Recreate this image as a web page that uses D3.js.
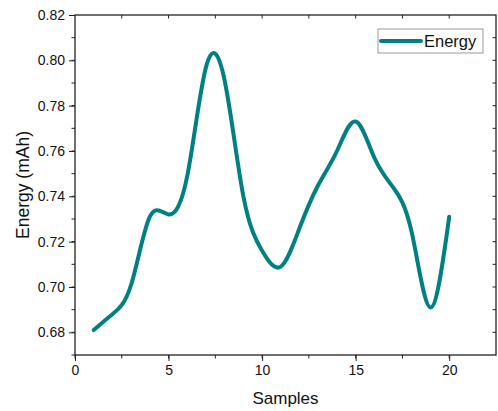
<!DOCTYPE html>
<html>
<head>
<meta charset="utf-8">
<script src="https://cdn.jsdelivr.net/npm/d3@7"></script>
<style>
  body { margin: 0; background: #fff; }
  svg { display: block; font-family: "Liberation Sans", Arial, sans-serif; }
</style>
</head>
<body>
<div id="chart"></div>
<script>
// samples 1..20 and measured energy (mAh)
var samples = [1,2,3,4,5,6,7,8,9,10,11,12,13,14,15,16,17,18,19,20];
var energy = [0.681, 0.688, 0.701, 0.731, 0.732, 0.749, 0.797, 0.791, 0.740, 0.716,
              0.709, 0.726, 0.745, 0.760, 0.773, 0.757, 0.744, 0.724, 0.691, 0.731];
var xTicks = [0, 5, 10, 15, 20];
var yTicks = [0.68, 0.70, 0.72, 0.74, 0.76, 0.78, 0.80, 0.82];
var seriesName = "Energy";

var width = 498, height = 411;
var margin = {top: 15, right: 2, bottom: 56, left: 75};
var color = "#008080";

var svg = d3.select("#chart").append("svg").attr("width", width).attr("height", height);

var x = d3.scaleLinear().domain([0, 22.5]).range([margin.left, width - margin.right]);
var y = d3.scaleLinear().domain([0.67, 0.82]).range([height - margin.bottom, margin.top]);

var x0 = x.range()[0], x1 = x.range()[1], y0 = y.range()[0], y1 = y.range()[1];

// minor tick values
var xMinor = d3.range(0, 22.5, 2.5);
var yMinor = d3.range(0, 15).map(function(i){ return +(0.67 + i * 0.01).toFixed(2); });

// bottom axis
svg.append("g").attr("transform", "translate(0," + y0 + ")")
  .call(d3.axisBottom(x).tickValues(xTicks).tickSize(6).tickPadding(4).tickFormat(d3.format("d")))
  .call(function(g){ g.select(".domain").remove(); g.selectAll("text").attr("font-size", 14).attr("fill", "#111"); g.selectAll("line").attr("stroke", "#222"); });
svg.append("g").attr("transform", "translate(0," + y0 + ")")
  .selectAll("line").data(xMinor).enter().append("line")
  .attr("x1", function(d){ return x(d); }).attr("x2", function(d){ return x(d); })
  .attr("y1", 0).attr("y2", 3.5).attr("stroke", "#222");

// left axis
svg.append("g").attr("transform", "translate(" + x0 + ",0)")
  .call(d3.axisLeft(y).tickValues(yTicks).tickSize(6).tickPadding(4).tickFormat(d3.format(".2f")))
  .call(function(g){ g.select(".domain").remove(); g.selectAll("text").attr("font-size", 14).attr("fill", "#111"); g.selectAll("line").attr("stroke", "#222"); });
svg.append("g").attr("transform", "translate(" + x0 + ",0)")
  .selectAll("line").data(yMinor).enter().append("line")
  .attr("y1", function(d){ return y(d); }).attr("y2", function(d){ return y(d); })
  .attr("x1", 0).attr("x2", -3.5).attr("stroke", "#222");

// top and right mirror ticks (inward)
svg.append("g").selectAll("line").data(xMinor.filter(function(d){ return d > 0; })).enter().append("line")
  .attr("x1", function(d){ return x(d); }).attr("x2", function(d){ return x(d); })
  .attr("y1", y1).attr("y2", y1 + 3.5).attr("stroke", "#222");
svg.append("g").selectAll("line").data(yMinor.filter(function(d){ return d > 0.675; })).enter().append("line")
  .attr("y1", function(d){ return y(d); }).attr("y2", function(d){ return y(d); })
  .attr("x1", x1).attr("x2", x1 - 3.5).attr("stroke", "#222");

// frame
svg.append("rect").attr("x", x0).attr("y", y1).attr("width", x1 - x0).attr("height", y0 - y1)
  .attr("fill", "none").attr("stroke", "#222").attr("stroke-width", 1.3);

// the curve
var line = d3.line()
  .x(function(d, i){ return x(samples[i]); })
  .y(function(d){ return y(d); })
  .curve(d3.curveNatural);

svg.append("path").datum(energy)
  .attr("d", line)
  .attr("fill", "none").attr("stroke", color).attr("stroke-width", 4)
  .attr("stroke-linecap", "round").attr("stroke-linejoin", "round");

// axis titles
svg.append("text").attr("x", (x0 + x1) / 2).attr("y", 404)
  .attr("text-anchor", "middle").attr("font-size", 17).attr("fill", "#111").text("Samples");
svg.append("text").attr("transform", "translate(29," + ((y0 + y1) / 2) + ") rotate(-90)")
  .attr("text-anchor", "middle").attr("font-size", 17.5).attr("fill", "#111").text("Energy (mAh)");

// legend
var lg = svg.append("g").attr("transform", "translate(378,29)");
lg.append("rect").attr("width", 105).attr("height", 24).attr("fill", "#fff").attr("stroke", "#999");
lg.append("line").attr("x1", 3).attr("x2", 43).attr("y1", 12).attr("y2", 12)
  .attr("stroke", color).attr("stroke-width", 4).attr("stroke-linecap", "round");
lg.append("text").attr("x", 46).attr("y", 18).attr("font-size", 16.5).attr("fill", "#111").text(seriesName);
</script>
</body>
</html>
